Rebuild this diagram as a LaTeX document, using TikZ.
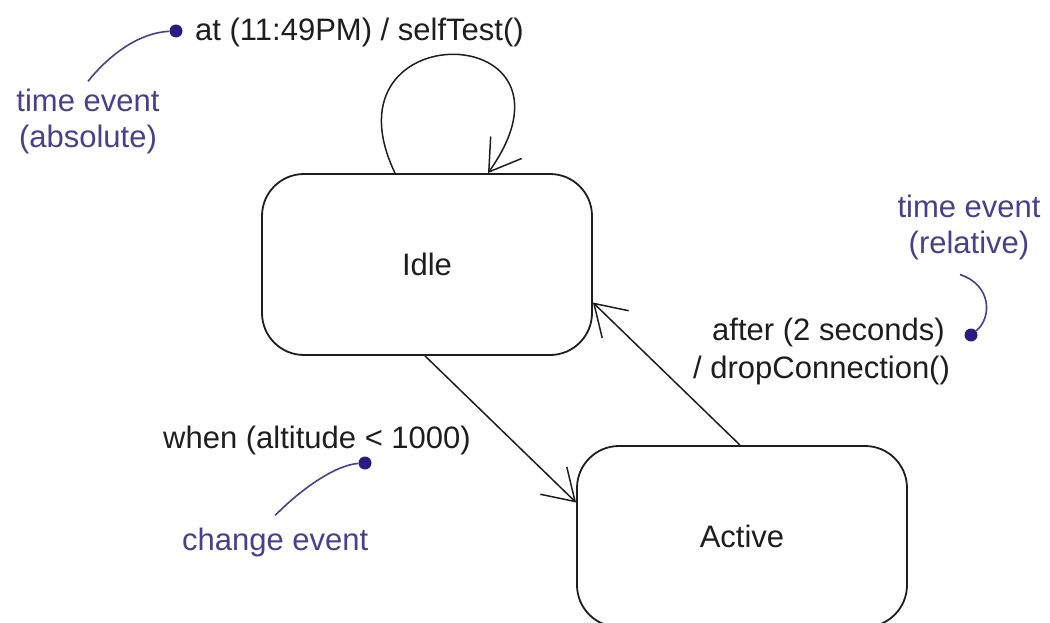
\documentclass[tikz,border=0pt]{standalone}
\usepackage{fontspec}
\setmainfont{Liberation Sans}
\usetikzlibrary{arrows.meta}
\definecolor{annot}{RGB}{76,62,140}
\definecolor{dotc}{RGB}{42,28,128}
\definecolor{ink}{RGB}{30,30,30}
\tikzset{
  state/.style={draw=ink, line width=1.8pt, rounded corners=42pt, minimum width=330pt, minimum height=181pt, inner sep=0pt, text=ink, font=\fontsize{31}{36}\selectfont},
  lbl/.style={inner sep=0pt, anchor=base west, font=\fontsize{31}{36}\selectfont, text=ink},
  note/.style={inner sep=0pt, anchor=base, font=\fontsize{31}{36}\selectfont, text=annot},
  dotnode/.style={circle, fill=dotc, inner sep=0pt, minimum size=13pt},
  trans/.style={line width=1.5pt, draw=ink, -{Straight Barb[length=30pt,width=38pt]}},
  lead/.style={line width=1.6pt, draw=dotc!85!white},
}
\begin{document}
\begin{tikzpicture}[x=1pt,y=-1pt]
\useasboundingbox (0,0) rectangle (1050,623);
\clip (0,0) rectangle (1050,623);
\fill[white] (0,0) rectangle (1050,623);

% states
\node[state] (idle) at (427,264.5) {Idle};
\node[state] (active) at (742,536.5) {Active};

% transitions
\draw[trans] ([xshift=-32pt]idle.north) .. controls (318,12) and (598,18) .. ([xshift=61pt]idle.north);
\draw[trans] ([xshift=-2pt]idle.south) -- ([yshift=34pt]active.west);
\draw[trans] ([xshift=-2pt]active.north) -- ([yshift=-38pt]idle.east);

% transition labels
\node[lbl] (selft) at (195,41) {at (11:49PM) / selfTest()};
\node[lbl] (when) at (163,448) {when (altitude < 1000)};
\node[lbl] (after) at (712,340) {after (2 seconds)};
\node[lbl] (drop) at (693,378) {/ dropConnection()};

% annotations
\node[dotnode] (d1) at (176,31) {};
\node[note] (ta1) at (88,112) {time event};
\node[note] (ta2) at (88,148) {(absolute)};
\draw[lead] (d1) .. controls (135,33) and (105,60) .. ([yshift=8pt]ta1.north);

\node[dotnode] (d2) at (365,463) {};
\node[note, anchor=base west] (chg) at (182,550) {change event};
\draw[lead] (d2) .. controls (335,465) and (300,490) .. ([yshift=12pt]chg.north);

\node[note] (tr1) at (969,217) {time event};
\node[note] (tr2) at (969,253) {(relative)};
\node[dotnode] (d3) at (971,335) {};
\draw[lead] ([xshift=-9pt,yshift=-15pt]tr2.south) .. controls (992,285) and (992,318) .. (d3);
\end{tikzpicture}
\end{document}
